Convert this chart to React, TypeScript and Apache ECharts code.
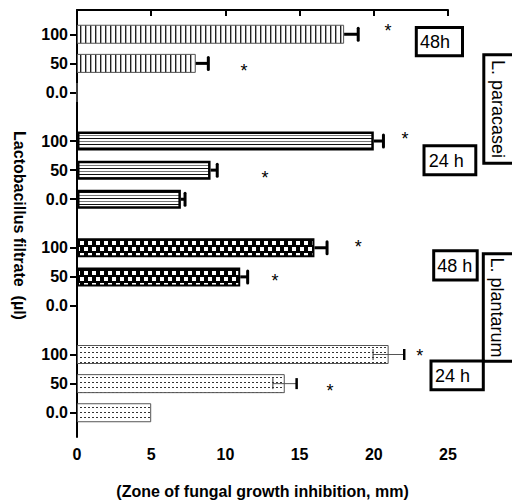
import React, { useEffect, useRef } from "react";
import * as echarts from "echarts";

// ---- data ----
const concentrations = ["100", "50", "0.0"]; // Lactobacillus filtrate (µl)
const groupIds = ["paracasei48", "paracasei24", "plantarum48", "plantarum24"];

const paracasei48h = [18, 8, 0];
const paracasei48hErr = [0.95, 0.85, 0];
const paracasei24h = [20, 9, 7];
const paracasei24hErr = [0.65, 0.45, 0.28];
const plantarum48h = [16, 11, 0];
const plantarum48hErr = [0.85, 0.5, 0];
const plantarum24h = [21, 14, 5];
const plantarum24hErr = [1.05, 0.8, 0];

const xTicks = [0, 5, 10, 15, 20, 25];

// significance marks: x in mm, y on the 0..44 slot scale
const asteriskX = [20.96, 11.25, 22.1, 12.67, 18.96, 13.34, 23.1, 17.05];
const asteriskY = [1.54, 5.69, 12.64, 16.74, 23.85, 27.33, 35.08, 38.67];

const FONT = 'Arial, "Liberation Sans", Helvetica, sans-serif';

export default function App() {
  const ref = useRef<HTMLDivElement>(null);

  useEffect(() => {
    if (!ref.current) return;
    const chart = echarts.init(ref.current, undefined, { renderer: "svg" });

    // build the category slots (blank spacer slots between ticks and groups)
    const LEAD = 2, INNER = 2, BETWEEN = 4, TRAIL = 2;
    const cats: string[] = [];
    const blanks = (n: number) => {
      for (let i = 0; i < n; i++) cats.push("_" + cats.length);
    };
    blanks(LEAD);
    groupIds.forEach((g, gi) => {
      if (gi > 0) blanks(BETWEEN);
      concentrations.forEach((c, ci) => {
        if (ci > 0) blanks(INNER);
        cats.push(g + "|" + c);
      });
    });
    blanks(TRAIL);
    const isLabel = (v: string) => v.indexOf("|") >= 0;

    const tile = (w: number, h: number, draw: (ctx: CanvasRenderingContext2D) => void) => {
      const c = document.createElement("canvas");
      c.width = w;
      c.height = h;
      const ctx = c.getContext("2d")!;
      draw(ctx);
      return { image: c.toDataURL(), repeat: "repeat", imageWidth: w, imageHeight: h } as any;
    };

    const vStripes = tile(5, 4, (ctx) => {
      ctx.fillStyle = "#fff";
      ctx.fillRect(0, 0, 5, 4);
      ctx.fillStyle = "#222";
      ctx.fillRect(0, 0, 1, 4);
      ctx.fillStyle = "#aaa";
      ctx.fillRect(1, 0, 1, 4);
    });
    const hStripes = tile(4, 6, (ctx) => {
      ctx.fillStyle = "#fff";
      ctx.fillRect(0, 0, 4, 6);
      ctx.fillStyle = "#111";
      ctx.fillRect(0, 0, 4, 1);
      ctx.fillStyle = "#777";
      ctx.fillRect(0, 3, 4, 1);
    });
    const checker = tile(8, 12, (ctx) => {
      ctx.fillStyle = "#000";
      ctx.fillRect(0, 0, 8, 12);
      ctx.fillStyle = "#fff";
      ctx.fillRect(0, 1, 4, 4);
      ctx.fillRect(4, 7, 4, 4);
    });
    const dotted = tile(4, 5, (ctx) => {
      ctx.fillStyle = "#fff";
      ctx.fillRect(0, 0, 4, 5);
      ctx.fillStyle = "#333";
      ctx.fillRect(0, 2, 2, 1);
    });

    const groupValues = [paracasei48h, paracasei24h, plantarum48h, plantarum24h];
    const groupErrs = [paracasei48hErr, paracasei24hErr, plantarum48hErr, plantarum24hErr];
    const fills = [vStripes, hStripes, checker, dotted];
    const borders = [
      { c: "#555", w: 1 },
      { c: "#000", w: 2.5 },
      { c: "#000", w: 2 },
      { c: "#555", w: 1 },
    ];

    const barSeries = groupIds.map((g, gi) => ({
      type: "bar",
      name: g,
      barWidth: 19,
      barGap: "-100%",
      data: groupValues[gi].map((v, ci) => [v, g + "|" + concentrations[ci]]),
      itemStyle: {
        color: fills[gi],
        borderColor: borders[gi].c,
        borderWidth: borders[gi].w,
      },
      z: 2,
    }));

    const errData: any[] = [];
    groupIds.forEach((g, gi) => {
      groupErrs[gi].forEach((e, ci) => {
        if (e > 0) errData.push([groupValues[gi][ci], g + "|" + concentrations[ci], e, gi === 3 ? 1 : 0]);
      });
    });

    const option: any = {
      animation: false,
      grid: { left: 77, top: 10, width: 371, height: 429.3 },
      xAxis: {
        type: "value",
        min: xTicks[0],
        max: xTicks[xTicks.length - 1],
        interval: xTicks[1] - xTicks[0],
        splitLine: { show: false },
        axisLine: { show: true, lineStyle: { color: "#000", width: 2 } },
        axisTick: { show: true, length: 6, lineStyle: { color: "#000", width: 2 } },
        axisLabel: { color: "#000", fontSize: 16, fontWeight: "bold", fontFamily: FONT, margin: 9 },
        name: "(Zone of fungal growth inhibition, mm)",
        nameLocation: "middle",
        nameGap: 46,
        nameTextStyle: { color: "#000", fontSize: 16, fontWeight: "bold", fontFamily: FONT },
      },
      yAxis: [
        {
          type: "category",
          inverse: true,
          data: cats,
          boundaryGap: true,
          axisLine: { show: true, lineStyle: { color: "#000", width: 2 } },
          axisTick: {
            show: true,
            alignWithLabel: true,
            length: 7,
            interval: (i: number, v: string) => isLabel(v),
            lineStyle: { color: "#000", width: 2 },
          },
          axisLabel: {
            interval: (i: number, v: string) => isLabel(v),
            formatter: (v: string) => (isLabel(v) ? v.split("|")[1] : ""),
            color: "#000",
            fontSize: 16,
            fontWeight: "bold",
            fontFamily: FONT,
            margin: 9,
          },
          splitLine: { show: false },
        },
        { type: "value", min: 0, max: 44, inverse: true, show: false },
      ],
      series: [
        ...barSeries,
        {
          type: "custom",
          data: errData,
          z: 3,
          encode: { x: 0, y: 1 },
          renderItem: (params: any, api: any) => {
            const mean = api.value(0);
            const idx = api.value(1);
            const err = api.value(2);
            const kind = api.value(3);
            const p = api.coord([mean, idx]);
            const hi = api.coord([mean + err, idx]);
            const lo = api.coord([mean - err, idx]);
            const y = p[1];
            if (kind === 0) {
              return {
                type: "group",
                children: [
                  { type: "line", shape: { x1: p[0], y1: y, x2: hi[0], y2: y }, style: { stroke: "#000", lineWidth: 3 } },
                  { type: "line", shape: { x1: hi[0], y1: y - 6, x2: hi[0], y2: y + 6 }, style: { stroke: "#000", lineWidth: 3, lineCap: "round" } },
                ],
              };
            }
            return {
              type: "group",
              children: [
                { type: "line", shape: { x1: lo[0], y1: y, x2: hi[0], y2: y }, style: { stroke: "#555", lineWidth: 1 } },
                { type: "line", shape: { x1: lo[0], y1: y - 5.5, x2: lo[0], y2: y + 5.5 }, style: { stroke: "#333", lineWidth: 1 } },
                { type: "line", shape: { x1: hi[0], y1: y - 5.5, x2: hi[0], y2: y + 5.5 }, style: { stroke: "#000", lineWidth: 2.5 } },
              ],
            };
          },
        },
        {
          type: "custom",
          yAxisIndex: 1,
          z: 4,
          data: asteriskX.map((x, i) => [x, asteriskY[i]]),
          renderItem: (params: any, api: any) => {
            const p = api.coord([api.value(0), api.value(1)]);
            return {
              type: "text",
              x: p[0],
              y: p[1] + 6,
              style: { text: "*", fontSize: 18, fontFamily: FONT, fill: "#000", align: "center", verticalAlign: "middle" },
            };
          },
        },
      ],
      graphic: [
        {
          type: "text",
          x: 19,
          y: 225.5,
          rotation: -Math.PI / 2,
          style: {
            text: "Lactobacillus filtrate  (µl)",
            fontSize: 16,
            fontWeight: "bold",
            fontFamily: FONT,
            fill: "#000",
            align: "center",
            verticalAlign: "middle",
          },
        },
        { type: "rect", shape: { x: 416.3, y: 27.5, width: 46.2, height: 28.3 }, style: { fill: "#fff", stroke: "#000", lineWidth: 3 } },
        { type: "text", x: 420, y: 42, style: { text: "48h", fontSize: 18, fontFamily: FONT, fill: "#000", align: "left", verticalAlign: "middle" } },
        { type: "rect", shape: { x: 483.8, y: 54.7, width: 40, height: 108.6 }, style: { fill: "#fff", stroke: "#000", lineWidth: 3 } },
        { type: "text", x: 498, y: 109, rotation: -Math.PI / 2, style: { text: "L. paracasei", fontSize: 18, fontFamily: FONT, fill: "#000", align: "center", verticalAlign: "middle" } },
        { type: "rect", shape: { x: 424, y: 145.7, width: 51.8, height: 29 }, style: { fill: "#fff", stroke: "#000", lineWidth: 3 } },
        { type: "text", x: 428.7, y: 160.5, style: { text: "24 h", fontSize: 18, fontFamily: FONT, fill: "#000", align: "left", verticalAlign: "middle" } },
        { type: "rect", shape: { x: 433.7, y: 250.7, width: 43.5, height: 29.3 }, style: { fill: "#fff", stroke: "#000", lineWidth: 3 } },
        { type: "text", x: 437.3, y: 265.5, style: { text: "48 h", fontSize: 18, fontFamily: FONT, fill: "#000", align: "left", verticalAlign: "middle" } },
        { type: "rect", shape: { x: 483.3, y: 253.8, width: 40, height: 107.5 }, style: { fill: "#fff", stroke: "#000", lineWidth: 3 } },
        { type: "text", x: 496.5, y: 307.5, rotation: -Math.PI / 2, style: { text: "L. plantarum", fontSize: 18, fontFamily: FONT, fill: "#000", align: "center", verticalAlign: "middle" } },
        { type: "rect", shape: { x: 431, y: 361, width: 52.3, height: 28.7 }, style: { fill: "#fff", stroke: "#000", lineWidth: 3 } },
        { type: "text", x: 435, y: 375.5, style: { text: "24 h", fontSize: 18, fontFamily: FONT, fill: "#000", align: "left", verticalAlign: "middle" } },
      ],
    };

    chart.setOption(option);
    return () => chart.dispose();
  }, []);

  return <div ref={ref} style={{ width: 512, height: 504, position: "absolute", left: 0, top: 0 }} />;
}
